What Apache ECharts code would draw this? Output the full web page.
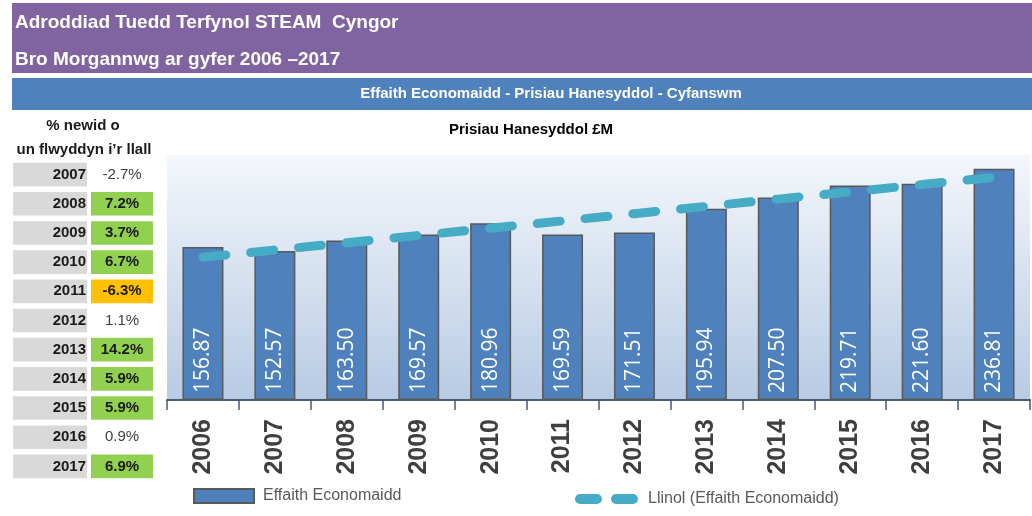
<!DOCTYPE html>
<html>
<head>
<meta charset="utf-8">
<script src="https://cdn.jsdelivr.net/npm/echarts@6/dist/echarts.min.js"></script>
<style>
  html, body { margin: 0; padding: 0; background: #fff; }
  #chart { width: 1032px; height: 516px; }
</style>
</head>
<body>
<div id="chart"></div>
<script>
const years = ['2006', '2007', '2008', '2009', '2010', '2011', '2012', '2013', '2014', '2015', '2016', '2017']
const impact = [156.87, 152.57, 163.50, 169.57, 180.96, 169.59, 171.51, 195.94, 207.50, 219.71, 221.60, 236.81]
// linear trend
const trend = [146.2, 153.7, 161.1, 168.6, 176.0, 183.5, 190.9, 198.4, 205.8, 213.3, 220.7, 228.2]
const changeYears = ['2007', '2008', '2009', '2010', '2011', '2012', '2013', '2014', '2015', '2016', '2017']
const pctChange = [-2.7, 7.2, 3.7, 6.7, -6.3, 1.1, 14.2, 5.9, 5.9, 0.9, 6.9]

const barName = 'Effaith Economaidd'
const trendName = 'Llinol (Effaith Economaidd)'
const font = 'Liberation Sans'

function cellColor(v) {
  if (v > 2) return '#92d050'
  if (v < -5) return '#ffc000'
  return null
}

// table of yearly % change, drawn in its own grid
function renderRow(params, api) {
  const idx = api.value(1)
  const v = pctChange[params.dataIndex]
  const yc = api.coord([0, idx])[1]
  const h = api.size([0, 1])[1] * 0.81
  const x0 = api.coord([0, idx])[0]
  const x1 = api.coord([74, idx])[0]
  const x2 = api.coord([78, idx])[0]
  const x3 = api.coord([140, idx])[0]
  const fill = cellColor(v)
  const children = [
    { type: 'rect', shape: { x: x0, y: yc - h / 2, width: x1 - x0, height: h }, style: { fill: '#d9d9d9' } },
    {
      type: 'text',
      style: { x: x1 - 1, y: yc, text: changeYears[params.dataIndex], fill: '#1a1a1a', font: 'bold 15px ' + font, align: 'right', verticalAlign: 'middle' }
    }
  ]
  if (fill) {
    children.push({ type: 'rect', shape: { x: x2, y: yc - h / 2, width: x3 - x2, height: h }, style: { fill: fill } })
  }
  children.push({
    type: 'text',
    style: {
      x: (x2 + x3) / 2,
      y: yc,
      text: v.toFixed(1) + '%',
      fill: fill ? '#1a1a1a' : '#404040',
      font: (fill ? 'bold ' : '') + '15px ' + font,
      align: 'center',
      verticalAlign: 'middle'
    }
  })
  return { type: 'group', children: children }
}

const chart = echarts.init(document.getElementById('chart'))
chart.setOption({
  animation: false,
  graphic: [
    { type: 'rect', shape: { x: 12, y: 3, width: 1020, height: 70 }, style: { fill: '#8064a2' } },
    { type: 'text', style: { x: 15, y: 23, text: 'Adroddiad Tuedd Terfynol STEAM  Cyngor', fill: '#fff', font: 'bold 19px ' + font, verticalAlign: 'middle' } },
    { type: 'text', style: { x: 15, y: 60, text: 'Bro Morgannwg ar gyfer 2006 \u20132017', fill: '#fff', font: 'bold 19px ' + font, verticalAlign: 'middle' } },
    { type: 'rect', shape: { x: 12, y: 78, width: 1020, height: 32 }, style: { fill: '#4f81bd' } },
    { type: 'text', style: { x: 551, y: 94, text: 'Effaith Economaidd - Prisiau Hanesyddol - Cyfanswm', fill: '#fff', font: 'bold 15px ' + font, align: 'center', verticalAlign: 'middle' } },
    { type: 'text', style: { x: 531, y: 130, text: 'Prisiau Hanesyddol \u00a3M', fill: '#000', font: 'bold 15px ' + font, align: 'center', verticalAlign: 'middle' } },
    { type: 'text', style: { x: 83, y: 126, text: '% newid o', fill: '#1a1a1a', font: 'bold 15px ' + font, align: 'center', verticalAlign: 'middle' } },
    { type: 'text', style: { x: 84, y: 150, text: 'un flwyddyn i\u2019r llall', fill: '#1a1a1a', font: 'bold 15px ' + font, align: 'center', verticalAlign: 'middle' } }
  ],
  legend: [
    {
      left: 193, top: 488, padding: 0,
      itemWidth: 60, itemHeight: 14,
      data: [{ name: barName, icon: 'rect' }],
      textStyle: { fontSize: 16, color: '#595959', fontFamily: font, padding: [0, 0, 0, 4] }
    },
    {
      left: 575, top: 491, padding: 0,
      itemWidth: 63, itemHeight: 10,
      data: [{ name: trendName, icon: 'path://M5,0H22A5,5,0,0,1,22,10H5A5,5,0,0,1,5,0ZM41,0H58A5,5,0,0,1,58,10H41A5,5,0,0,1,41,0Z' }],
      textStyle: { fontSize: 16, color: '#595959', fontFamily: font, padding: [0, 0, 0, 5] }
    }
  ],
  grid: [
    {
      left: 167, right: 2, top: 155, bottom: 116,
      show: true,
      borderWidth: 0,
      backgroundColor: new echarts.graphic.LinearGradient(0, 0, 0, 1, [
        { offset: 0, color: '#f4f7fb' },
        { offset: 1, color: '#b7cbe4' }
      ])
    },
    { left: 13, top: 160, width: 140, height: 321 }
  ],
  xAxis: [
    {
      type: 'category',
      gridIndex: 0,
      data: years,
      axisLine: { lineStyle: { color: '#4a5a70', width: 2 } },
      axisTick: { show: true, length: 10, interval: 0, lineStyle: { color: '#4a5a70', width: 1.5 } },
      axisLabel: { rotate: 90, margin: 19, interval: 0, fontSize: 25, fontWeight: 'bold', color: '#3f3f3f', fontFamily: font }
    },
    { type: 'value', gridIndex: 1, min: 0, max: 140, show: false }
  ],
  yAxis: [
    { type: 'value', gridIndex: 0, min: 0, max: 251, show: false, splitLine: { show: false } },
    { type: 'category', gridIndex: 1, data: changeYears, inverse: true, show: false }
  ],
  series: [
    {
      name: barName,
      type: 'bar',
      data: impact,
      barWidth: 41,
      itemStyle: { color: '#4f81bd', borderColor: '#595959', borderWidth: 1.5 },
      label: {
        show: true,
        position: 'insideBottom',
        distance: 7,
        rotate: 90,
        align: 'left',
        verticalAlign: 'middle',
        color: '#fff',
        fontSize: 21,
        fontFamily: 'Open Sans',
        formatter: (p) => p.value.toFixed(2)
      }
    },
    {
      name: trendName,
      type: 'line',
      data: trend,
      symbol: 'none',
      itemStyle: { color: '#46acc5' },
      lineStyle: { color: '#46acc5', width: 9, type: [23, 25], cap: 'round' },
      z: 3
    },
    {
      type: 'custom',
      xAxisIndex: 1,
      yAxisIndex: 1,
      data: changeYears.map((y, i) => [0, y, pctChange[i]]),
      renderItem: renderRow,
      silent: true
    }
  ]
})
</script>
</body>
</html>
